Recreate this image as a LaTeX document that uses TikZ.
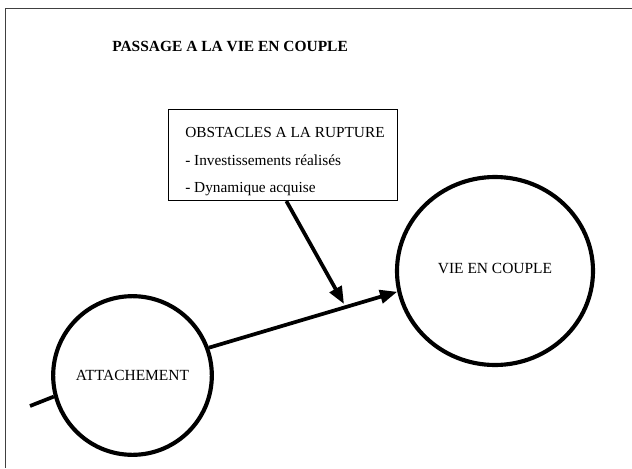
\documentclass[tikz,border=0pt]{standalone}
\usepackage{fontspec}
\setmainfont{Liberation Serif}
\usetikzlibrary{arrows.meta,shapes.geometric}
\begin{document}
\begin{tikzpicture}[x=0.75pt,y=-0.75pt,
  frameline/.style={draw=black!75,line width=0.7pt},
  bubble/.style={draw,line width=3.1pt,inner sep=0pt,font=\fontsize{11.6}{14}\selectfont},
  obsbox/.style={draw,line width=0.8pt,inner sep=0pt,anchor=north west},
  txt/.style={anchor=base west,inner sep=0pt,font=\fontsize{11.5}{14}\selectfont},
  conn/.style={line width=2.8pt},
  tip/.style={-{Triangle[length=13pt,width=10pt]}}
]
\useasboundingbox (0,0) rectangle (632,468);
% frame
\coordinate (ftl) at (5,8);
\coordinate (ftr) at (632,8);
\coordinate (fbl) at (5,468);
\draw[frameline] (ftr) -- (ftl) -- (fbl);
% title
\node[txt,font=\fontsize{11.6}{14}\selectfont\bfseries] (title) at (112,51) {PASSAGE A LA VIE EN COUPLE};
% obstacles box
\node[obsbox,minimum width=171.75pt,minimum height=68.25pt] (box) at (168,109) {};
\node[txt] (t1) at (185,137) {OBSTACLES A LA RUPTURE};
\node[txt] (t2) at (185,165) {- Investissements réalisés};
\node[txt] (t3) at (185,192) {- Dynamique acquise};
% circles
\node[bubble,circle,minimum size=119pt] (att) at (132.5,375.5) {ATTACHEMENT};
\node[bubble,ellipse,minimum width=147pt,minimum height=141pt] (vie) at (495,271) {\raisebox{3.5pt}{VIE EN COUPLE}};
% connectors
\coordinate (start) at (30,406);
\coordinate (hit) at (344,304);
\draw[conn] (start) -- (att.195);
\draw[conn,tip] (att.20) -- (vie.192);
\draw[conn,tip] ([xshift=2.5pt]box.south) -- (hit);
\end{tikzpicture}
\end{document}
